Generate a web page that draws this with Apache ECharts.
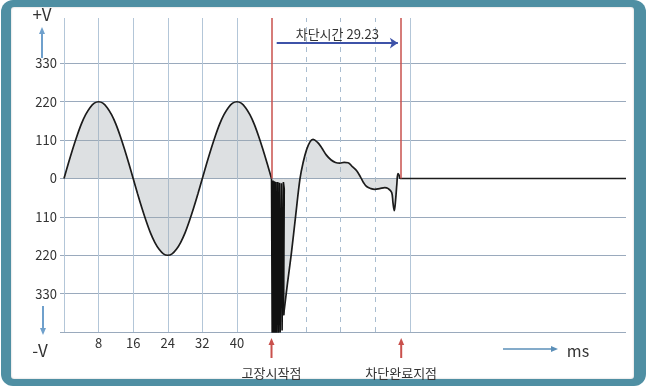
<!DOCTYPE html>
<html>
<head>
<meta charset="utf-8">
<script src="https://cdn.jsdelivr.net/npm/echarts@6/dist/echarts.min.js"></script>
<style>
  html, body { margin: 0; padding: 0; background: #ffffff; }
  #frame { position: absolute; left: 1px; top: 0; width: 645px; height: 386px; background: #4f8fa3; border-radius: 12px; }
  #panel { position: absolute; left: 11px; top: 7px; width: 623px; height: 372px; background: #ffffff; border-radius: 3px; box-shadow: inset 0 0 2px rgba(0,0,0,0.25); }
  #chart { position: absolute; left: 0; top: 0; width: 647px; height: 386px; }
</style>
</head>
<body>
<div id="frame"></div>
<div id="panel"></div>
<div id="chart"></div>
<script>
// Normal supply voltage before the fault [ms, V]
const preFault = [
  [0, 0], [1, 43], [2, 84], [3, 122], [4, 156], [5, 183], [6, 203], [7, 216], [8, 220],
  [9, 216], [10, 203], [11, 183], [12, 156], [13, 122], [14, 84], [15, 43], [16, 0],
  [17, -43], [18, -84], [19, -122], [20, -156], [21, -183], [22, -203], [23, -216], [24, -220],
  [25, -216], [26, -203], [27, -183], [28, -156], [29, -122], [30, -84], [31, -43], [32, 0],
  [33, 43], [34, 84], [35, 122], [36, 156], [37, 183], [38, 203], [39, 216], [40, 220],
  [41, 216], [42, 203], [43, 183], [44, 156], [45, 122], [46, 84], [47, 43], [48, 0]
];

// Oscillation right after the fault starts
const faultBurst = [
  [48.0, 0], [48.15, -448], [48.35, -6], [48.5, -450], [48.7, -8], [48.85, -450],
  [49.05, -10], [49.2, -448], [49.45, -10], [49.6, -446], [49.85, -12], [50.0, -442],
  [50.3, -14], [50.45, -436], [50.75, -10], [50.95, -30], [50.8, -392]
];

// Transient until the breaker clears, then zero
const recovery = [
  [50.8, -392], [51.7, -300], [52.6, -214], [53.6, -105], [54.6, 0], [55.3, 45], [56.1, 82],
  [56.9, 105], [57.6, 112], [58.6, 104], [59.6, 88], [60.7, 67], [61.8, 53], [62.8, 46],
  [63.8, 44], [64.8, 46], [65.7, 45], [66.7, 34], [67.7, 22], [68.6, 4], [69.3, -12],
  [70.0, -23], [71.0, -29], [71.9, -31], [73.0, -29], [74.2, -26], [75.0, -29], [75.8, -40],
  [76.1, -70], [76.4, -92], [76.7, -62], [77.0, -15], [77.25, 14], [77.5, 10], [77.8, 0],
  [90, 0], [110, 0], [130, 0]
];

// Axis ticks and reference lines
const yTickValues = [330, 220, 110, 0, -110, -220, -330];
const hGridLines = [330, 220, 110, 0, -110, -220, -330, -440];
const xTickValues = [8, 16, 24, 32, 40];
const vGridSolid = [0, 8, 16, 24, 32, 40, 80];
const vGridDashed = [56, 64, 72];
const faultStart = 48;
const clearPoint = 78;
const breakTime = 29.23;

const FONT = '"Noto Sans CJK KR", "Noto Sans", sans-serif';
const X_MIN = 0, X_MAX = 130, Y_MIN = -440, Y_MAX = 460;

const chart = echarts.init(document.getElementById('chart'), null, { renderer: 'canvas' });

const curveLine = { color: '#1c1c1c', width: 1.7 };
const curveArea = { color: 'rgba(160,167,174,0.5)' };

const gridMarks = []
  .concat(hGridLines.map(v => ({ yAxis: v, lineStyle: { color: '#9aaabd', width: 1, type: 'solid' } })))
  .concat(vGridSolid.map(v => ({ xAxis: v, lineStyle: { color: '#b3c6d8', width: 1, type: 'solid' } })))
  .concat(vGridDashed.map(v => ({ xAxis: v, lineStyle: { color: '#a9bdd0', width: 1, type: [5, 5] } })));

chart.setOption({
  animation: false,
  grid: { left: 64, top: 18, width: 562, height: 314 },
  xAxis: {
    type: 'value', min: X_MIN, max: X_MAX, interval: 8,
    axisLine: { show: false },
    splitLine: { show: false },
    axisTick: { show: true, customValues: [0], length: 5, lineStyle: { color: '#9aaabd' } },
    axisLabel: {
      customValues: xTickValues, margin: 5, color: '#333', fontSize: 13, fontFamily: FONT,
      formatter: v => (xTickValues.indexOf(v) >= 0 ? String(v) : '')
    }
  },
  yAxis: {
    type: 'value', min: Y_MIN, max: Y_MAX, interval: 110,
    axisLine: { show: false },
    splitLine: { show: false },
    axisTick: { show: true, customValues: hGridLines, length: 4, lineStyle: { color: '#9aaabd' } },
    axisLabel: {
      customValues: yTickValues, margin: 7, color: '#333', fontSize: 13, fontFamily: FONT,
      formatter: v => (yTickValues.indexOf(v) >= 0 ? String(Math.abs(v)) : '')
    }
  },
  series: [
    {
      name: 'grid', type: 'line', data: [], silent: true, z: 1,
      markLine: { silent: true, symbol: 'none', z: 1, animation: false, label: { show: false }, data: gridMarks }
    },
    {
      name: 'preFault', type: 'line', data: preFault, smooth: 0.3, showSymbol: false, z: 2,
      lineStyle: curveLine, areaStyle: curveArea
    },
    {
      name: 'faultBurst', type: 'line', data: faultBurst, smooth: false, showSymbol: false, z: 2,
      lineStyle: { color: '#111', width: 1.6 }, areaStyle: curveArea
    },
    {
      name: 'recovery', type: 'line', data: recovery, smooth: 0.4, showSymbol: false, z: 2,
      lineStyle: curveLine, areaStyle: curveArea
    },
    {
      name: 'markers', type: 'line', data: [], silent: true, z: 3,
      markLine: {
        silent: true, z: 3, animation: false,
        symbol: 'none',
        data: [
          [{ coord: [faultStart, Y_MAX], lineStyle: { color: '#c9504c', width: 1.5, type: 'solid' }, label: { show: false } },
           { coord: [faultStart, 0] }],
          [{ coord: [clearPoint, Y_MAX], lineStyle: { color: '#c9504c', width: 1.5, type: 'solid' }, label: { show: false } },
           { coord: [clearPoint, 0] }],
          [{
             coord: [49.2, 388], symbol: 'none',
             lineStyle: { color: '#3d52a8', width: 2, type: 'solid' },
             label: { show: true, position: 'middle', formatter: '차단시간 ' + breakTime, color: '#333', fontSize: 13, fontFamily: FONT, distance: 3 }
           },
           { coord: [faultStart + breakTime, 388], symbol: 'arrow', symbolSize: 8 }]
        ]
      }
    }
  ]
});

// Arrow helper: line plus triangular head at (x2, y2)
function arrow(x1, y1, x2, y2, color, width, headLen, headW) {
  const dx = x2 - x1, dy = y2 - y1, len = Math.hypot(dx, dy);
  const ux = dx / len, uy = dy / len, px = -uy, py = ux;
  const bx = x2 - ux * headLen, by = y2 - uy * headLen;
  return [
    { type: 'line', silent: true, shape: { x1: x1, y1: y1, x2: bx + ux, y2: by + uy }, style: { stroke: color, lineWidth: width } },
    { type: 'polygon', silent: true, shape: { points: [[x2, y2], [bx + px * headW / 2, by + py * headW / 2], [bx - px * headW / 2, by - py * headW / 2]] }, style: { fill: color } }
  ];
}

function text(x, y, str, size, align) {
  return { type: 'text', silent: true, x: x, y: y, style: { text: str, fill: '#333', fontSize: size, fontFamily: FONT, align: align || 'center', verticalAlign: 'middle' } };
}

const xFault = chart.convertToPixel({ xAxisIndex: 0 }, faultStart);
const xClear = chart.convertToPixel({ xAxisIndex: 0 }, clearPoint);

const g = []
  .concat([text(42, 15, '+V', 17)])
  .concat(arrow(42, 58, 42, 27, '#6fa0cc', 2, 7, 6))
  .concat([text(40, 351, '-V', 17)])
  .concat(arrow(43, 306, 43, 335, '#6fa0cc', 2, 7, 6))
  .concat([text(578, 351, 'ms', 16)])
  .concat(arrow(503, 349, 558, 349, '#5b8fb8', 1.5, 7, 6))
  .concat(arrow(xFault, 358, xFault, 338, '#c9504c', 2, 7, 6))
  .concat(arrow(xClear, 358, xClear, 338, '#c9504c', 2, 7, 6))
  .concat([text(xFault, 373, '고장시작점', 13), text(xClear, 373, '차단완료지점', 13)]);

chart.setOption({ graphic: g });
</script>
</body>
</html>
